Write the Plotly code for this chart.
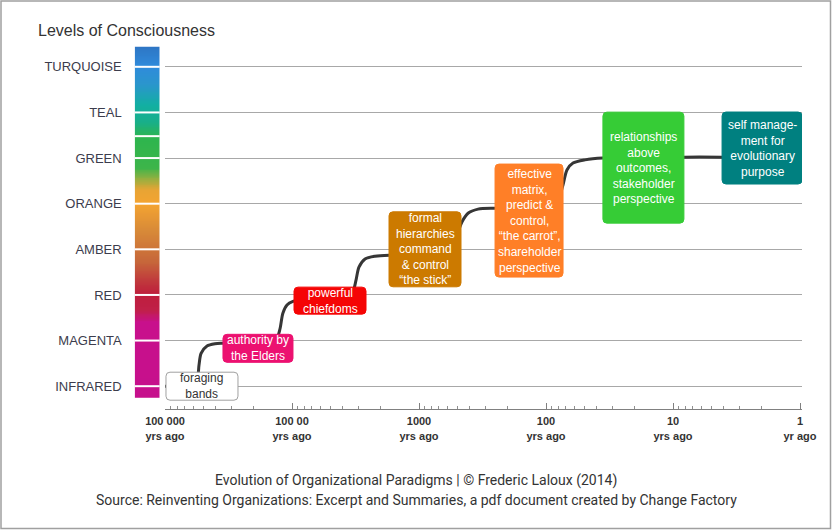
import math
import numpy as np
import plotly.graph_objects as go

# ---------------- data ----------------
levels = ["INFRARED", "MAGENTA", "RED", "AMBER", "ORANGE", "GREEN", "TEAL", "TURQUOISE"]
level_idx = list(range(len(levels)))

x_tick_vals = [100000, 10000, 1000, 100, 10, 1]
x_tick_text = ["100 000<br>yrs ago", "100 00<br>yrs ago", "1000<br>yrs ago",
               "100<br>yrs ago", "10<br>yrs ago", "1<br>yr ago"]

# evolution path (years ago, level position)
path_years = [100000, 63500, 56000, 54000, 52000, 46700, 40400, 35600,
              14400, 13100, 12400, 11800, 10950, 9820, 8650,
              3620, 3310, 3130, 2970, 2660, 2220, 1690,
              684, 550, 493, 459, 411, 343, 252,
              96, 80.5, 73.5, 68.4, 61.3, 49.3, 35.6,
              8.2, 4.1, 2.7]
path_level = [0, 0, 0.13, 0.46, 0.72, 0.88, 0.93, 0.94,
              0.94, 1.05, 1.27, 1.60, 1.78, 1.86, 1.89,
              1.89, 2.06, 2.33, 2.61, 2.79, 2.85, 2.87,
              2.87, 3.09, 3.38, 3.60, 3.79, 3.88, 3.90,
              3.90, 4.08, 4.41, 4.74, 4.89, 4.96, 5.0,
              5.02, 5.02, 5.02]

# paradigm boxes
box_text = ["foraging<br>bands",
            "authority by<br>the Elders",
            "powerful<br>chiefdoms",
            "formal<br>hierarchies<br>command<br>& control<br>\u201cthe stick\u201d",
            "effective<br>matrix,<br>predict &<br>control,<br>\u201cthe carrot\u201d,<br>shareholder<br>perspective",
            "relationships<br>above<br>outcomes,<br>stakeholder<br>perspective",
            "self manage-<br>ment for<br>evolutionary<br>purpose"]
box_years = [51150, 18530, 5020, 897, 136, 17.1, 1.99]
box_level = [0.0, 0.83, 1.875, 3.0, 3.63, 4.79, 5.22]
box_fill = ["#FFFFFF", "#EC1170", "#F50505", "#CC7A00", "#FF7F27", "#36CC36", "#008080"]
box_font = ["#333333", "#FFFFFF", "#FFFFFF", "#FFFFFF", "#FFFFFF", "#FFFFFF", "#FFFFFF"]
box_border = ["#A0A0A0", "#EC1170", "#F50505", "#CC7A00", "#FF7F27", "#36CC36", "#008080"]
box_w = [72, 70, 72, 72, 68, 81, 80]
box_h = [28, 28, 27, 75, 113, 111, 72]

# colour band (level position -> colour)
band_stops = [-0.24, 1.40, 1.67, 2.02, 2.32, 2.72, 3.42, 3.99, 4.30, 4.56, 4.78, 5.46, 5.79, 6.16, 6.60, 7.0, 7.43]
band_colors = ["#C6108C", "#C8108C", "#C02048", "#BE1E3C", "#C03A3C", "#C6663A", "#D88A38",
               "#F4A431", "#E8A434", "#90B040", "#3DB54A", "#2DB54E", "#18AF8A", "#12AFA2",
               "#2A96CC", "#2F8BDB", "#2E76C5"]
band_gaps = [0, 1, 2, 3, 4, 5, 5.48, 6, 7]

title_text = "Levels of Consciousness"
footer1 = "Evolution of Organizational Paradigms | \u00a9 Frederic Laloux (2014)"
footer2 = "Source: Reinventing Organizations: Excerpt and Summaries, a pdf document created by Change Factory"

# ---------------- figure ----------------
W, H = 832, 530
ML, MR, MT, MB = 130, 30, 44, 121
PW = W - ML - MR
PH = H - MT - MB
R = 4  # corner radius (px)


def rounded_path(w, h, r):
    a, b = w / 2, h / 2
    return (f"M {-a + r},{-b} L {a - r},{-b} Q {a},{-b} {a},{-b + r} "
            f"L {a},{b - r} Q {a},{b} {a - r},{b} L {-a + r},{b} "
            f"Q {-a},{b} {-a},{b - r} L {-a},{-b + r} Q {-a},{-b} {-a + r},{-b} Z")


fig = go.Figure()

lo, hi = band_stops[0], band_stops[-1]
cs = [[(s - lo) / (hi - lo), c] for s, c in zip(band_stops, band_colors)]
yy = np.linspace(lo, hi, 400)
fig.add_trace(go.Heatmap(
    z=[[v] for v in yy], y=yy, x=[0.5], colorscale=cs, zmin=lo, zmax=hi,
    showscale=False, xaxis="x2", yaxis="y2", hoverinfo="skip"))

fig.add_trace(go.Scatter(
    x=path_years, y=path_level, mode="lines",
    line=dict(color="#363636", width=3, shape="spline", smoothing=0.8),
    hoverinfo="skip", showlegend=False))

for g in band_gaps:
    fig.add_shape(type="line", xref="x2 domain", yref="y2", x0=0, x1=1, y0=g, y1=g,
                  line=dict(color="white", width=2))

for t, yv, lv, f, fc, bc, w, h in zip(box_text, box_years, box_level, box_fill,
                                       box_font, box_border, box_w, box_h):
    fig.add_shape(type="path", xref="x", yref="y", xsizemode="pixel", ysizemode="pixel",
                  xanchor=yv, yanchor=lv, path=rounded_path(w, h, R),
                  fillcolor=f, line=dict(color=bc, width=1), layer="above")
    fig.add_annotation(
        x=math.log10(yv), y=lv, xref="x", yref="y", text=t, showarrow=False,
        font=dict(family="Arial, Liberation Sans", size=12, color=fc),
        align="center", valign="middle", borderpad=0)

fig.add_annotation(x=(416 - ML) / PW, y=(MT + PH - 480) / PH, xref="paper", yref="paper",
                   xanchor="center", yanchor="middle",
                   text=footer1, showarrow=False,
                   font=dict(family="Roboto", size=14, color="#333333"))
fig.add_annotation(x=(416 - ML) / PW, y=(MT + PH - 500) / PH, xref="paper", yref="paper",
                   xanchor="center", yanchor="middle",
                   text=footer2, showarrow=False,
                   font=dict(family="Roboto", size=14, color="#333333"))

# outer frame
fig.add_shape(type="rect", xref="paper", yref="paper",
              x0=(1 - ML) / PW, x1=(830.5 - ML) / PW,
              y0=(MT + PH - 528.5) / PH, y1=(MT + PH - 1) / PH,
              line=dict(color="#A0A0A0", width=1.5))

fig.update_layout(
    width=W, height=H,
    margin=dict(l=ML, r=MR, t=MT, b=MB),
    paper_bgcolor="white", plot_bgcolor="white",
    showlegend=False,
    title=dict(text=title_text, x=38 / W, xanchor="left", xref="container",
               y=1 - 30 / H, yanchor="middle", yref="container",
               font=dict(family="Arial, Liberation Sans", size=16, color="#333333")),
    xaxis=dict(type="log", domain=[(165 - ML) / PW, 1], range=[5, -2 / 127],
               tickmode="array", tickvals=x_tick_vals,
               ticktext=["<b>" + s + "</b>" for s in x_tick_text],
               tickfont=dict(family="Arial, Liberation Sans", size=11, color="#333333"),
               ticks="inside", ticklen=6, tickcolor="#808080", tickwidth=1,
               minor=dict(ticks="inside", ticklen=3, tickcolor="#909090", dtick="D1", showgrid=False),
               showline=True, linecolor="#808080", linewidth=1,
               showgrid=False, zeroline=False, anchor="y", ticklabelstandoff=2),
    yaxis=dict(range=[-0.5, 7.5], tickvals=level_idx, showticklabels=False,
               showgrid=True, gridcolor="#A8A8A8", gridwidth=1.2, zeroline=False,
               anchor="x", ticks=""),
    xaxis2=dict(domain=[(134.7 - ML) / PW, (159.7 - ML) / PW], range=[0, 1],
                visible=False, anchor="y2"),
    yaxis2=dict(range=[-0.5, 7.5], tickvals=level_idx, ticktext=levels,
                tickfont=dict(family="Arial, Liberation Sans", size=13, color="#3C3C4C"),
                showgrid=False, zeroline=False, showline=False, ticks="",
                anchor="x2", ticklabelstandoff=12),
)

fig.write_html("out.html", config={"displayModeBar": False},
               post_script="document.body.style.margin='0';document.body.style.overflow='hidden';")
